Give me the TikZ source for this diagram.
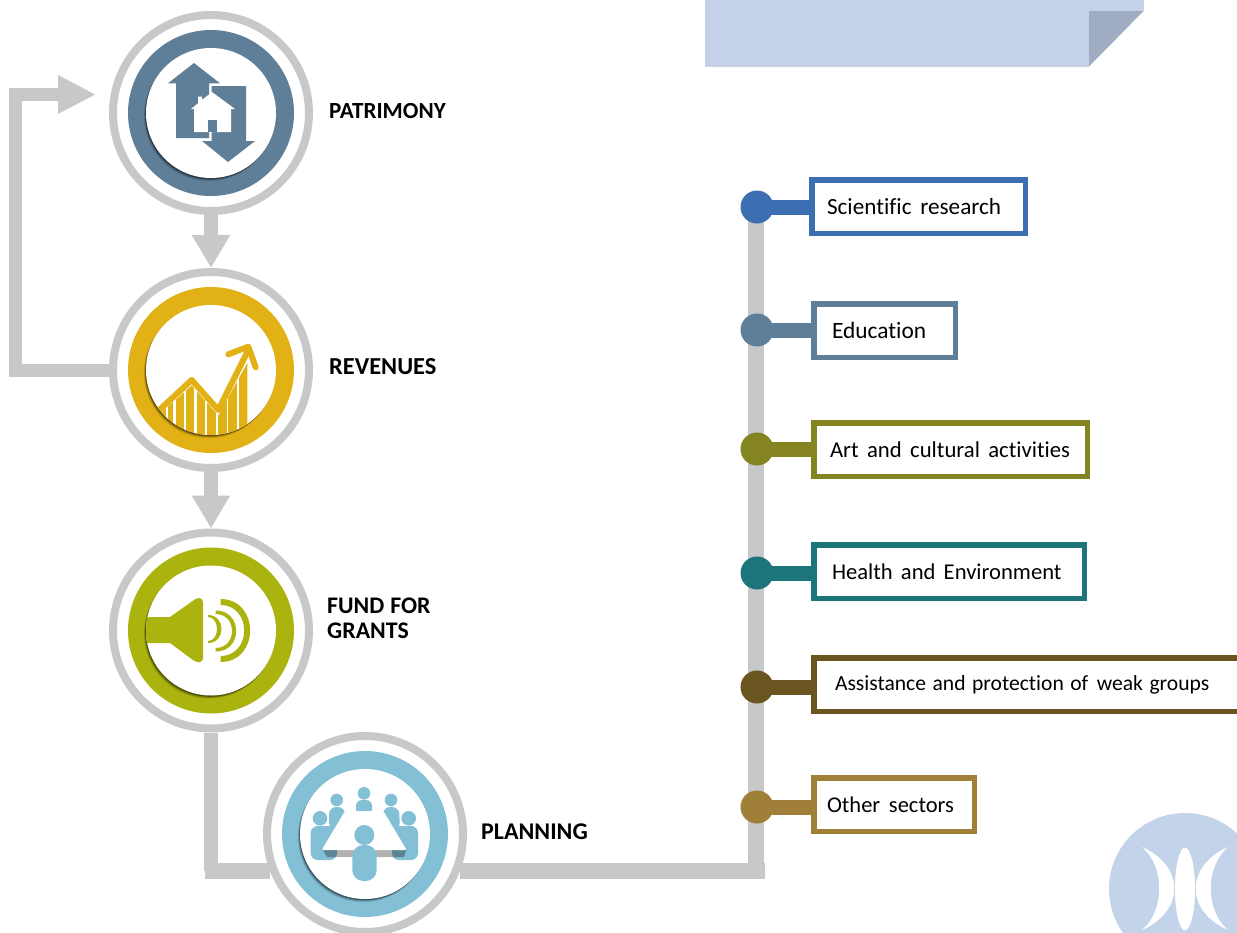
\documentclass[tikz,border=0pt]{standalone}
\usepackage{fontspec}
\setmainfont{Carlito}[Ligatures=NoCommon]
\usetikzlibrary{arrows.meta,backgrounds}
\definecolor{ringgray}{HTML}{C6C8CA}
\definecolor{cslate}{HTML}{5F7F99}
\definecolor{cgold}{HTML}{E2B115}
\definecolor{colive}{HTML}{ABB30F}
\definecolor{csky}{HTML}{83BFD5}
\definecolor{cblue}{HTML}{3B6FB2}
\definecolor{cmoss}{HTML}{848420}
\definecolor{cteal}{HTML}{1D757C}
\definecolor{cbrown}{HTML}{6A5520}
\definecolor{ctan}{HTML}{A07F38}
\definecolor{cbanner}{HTML}{C5D1E9}
\definecolor{cfold}{HTML}{A0ACC2}
\definecolor{clogo}{HTML}{C3D3EA}
\newcommand{\fsz}[2]{\fontsize{#1}{25}\selectfont\spaceskip=#2pt\relax}
\tikzset{
  ringnode/.style={circle,draw=ringgray,fill=white,line width=8pt,minimum size=196pt,inner sep=0pt},
  discnode/.style={circle,minimum size=166pt,inner sep=0pt,fill=#1},
  facenode/.style={circle,minimum size=130pt,inner sep=0pt,fill=white},
  shadedisc/.style={circle,minimum size=130pt,inner sep=0pt,fill=black},
  pipe/.style={draw=ringgray,line width=#1,line join=miter},
  pipe/.default=16pt,
  heading/.style={font=\bfseries\fsz{#1}{6},anchor=west,align=left,inner sep=0pt,text=black},
  dotnode/.style={circle,fill=#1,minimum size=33pt,inner sep=0pt},
  stub/.style={draw=#1,line width=15pt},
  sectorbox/.style={draw=#1,fill=white,line width=5.5pt,outer sep=2.75pt,anchor=north west,
    minimum height=53.5pt,align=left,inner ysep=0pt,text=black}
}
\newcommand{\mystation}[4]{%
  \node[ringnode] (#1) at (#2,#3) {};
  \node[discnode=#4] (#1-d) at (#2,#3) {};
  \node[shadedisc,opacity=.10] at (#2-2.2,#3+3.2) {};
  \node[shadedisc,opacity=.18] at (#2-1.5,#3+2.3) {};
  \node[shadedisc,opacity=.38] at (#2-.8,#3+1.3) {};
  \node[facenode] (#1-i) at (#2,#3) {};
}
\begin{document}
\begin{tikzpicture}[x=1pt,y=-1pt]
\path[use as bounding box,clip] (0,0) rectangle (1237,932);
\begin{scope}[on background layer]
\fill[white] (0,0) rectangle (1237,932);
\end{scope}

% banner
\fill[cbanner] (705,0) rectangle (1089,66.5);
\fill[cbanner] (1089,0) rectangle (1143.5,11);
\fill[cfold] (1089,11) -- (1143.5,11) -- (1089,66.5) -- cycle;

% logo
\fill[clogo] (1185,889) circle[radius=76];
\fill[white] (1142,847) .. controls (1185,866) and (1185,911) .. (1142,930)
  .. controls (1165,911) and (1165,866) .. cycle;
\fill[white] (1228,847) .. controls (1185,866) and (1185,911) .. (1228,930)
  .. controls (1205,911) and (1205,866) .. cycle;
\filldraw[fill=white,draw=clogo,line width=.7pt] (1185,889) ellipse[x radius=10.5,y radius=42];

% stations
\mystation{pat}{211}{113}{cslate}
\mystation{rev}{211}{370}{cgold}
\mystation{fund}{211}{630.5}{colive}
\mystation{plan}{365}{834}{csky}

% house icon
\fill[cslate] (194,63) -- (220,83.3) -- (209,83.3) -- (209,138) -- (176,138) -- (176,83.3) -- (168,83.3) -- cycle;
\fill[cslate] (211.7,86) -- (246,86) -- (246,141) -- (255,141) -- (228,162) -- (202,141) -- (211.7,141) -- cycle;
\fill[white] (212,92) -- (235,109) -- (231,109) -- (231,132) -- (194,132) -- (194,109) -- (191,109) -- (198,103.3)
  -- (198,96.5) -- (202,96.5) -- (202,100) -- cycle;
\fill[cslate] (208.3,120) rectangle (216.7,132);

% chart icon
\begin{scope}
\clip (211,370) circle[radius=65];
\fill[cgold] (160,413.5) -- (191.7,385.5) -- (218.3,415.5) -- (247.3,363) -- (247.3,440) -- (160,440) -- cycle;
\foreach \sx/\sw in {167/2.6,174.3/2.6,184.7/2.4,195.3/2.4,206.2/2.2,217/2.6,227.5/1.7,238/2.4}
  \fill[white] (\sx-\sw/2,360) rectangle (\sx+\sw/2,440);
\draw[cgold,line width=6pt,line join=round,line cap=round] (155,414) -- (191.7,380) -- (218.3,410) -- (248.3,350);
\end{scope}
\draw[cgold,line width=6pt,line join=round,line cap=round] (228.3,354.3) -- (248.3,346.7) -- (255.7,367.3);

% speaker icon
\begin{scope}
\clip (211,631) circle[radius=65];
\fill[colive] (140,617) -- (170,617) -- (194,600) .. controls (198,597) and (203,597) .. (203,603)
  -- (203,657) .. controls (203,664) and (197,663) .. (193,660) -- (170,643) -- (140,643) -- cycle;
\end{scope}
\fill[colive] (208,615) .. controls (226,615) and (226,643) .. (208,643) -- (208,641) .. controls (220,641) and (220,617) .. (208,617) -- cycle;
\fill[colive] (215.7,610.5) .. controls (243,610.5) and (243,651.5) .. (215.7,651.5) -- (215.7,648) .. controls (237.5,648) and (237.5,614) .. (215.7,614) -- cycle;
\fill[colive] (220.5,599) .. controls (260,599) and (260,662) .. (220.5,662) -- (220.5,656) .. controls (252,656) and (252,605) .. (220.5,605) -- cycle;

% meeting icon
\fill[csky] (364,793.3) circle[radius=6.3];
\fill[csky,rounded corners=6pt] (356,800) rectangle (372,820);
\fill[csky] (336.7,800) circle[radius=6.3];
\fill[csky,rounded corners=7pt] (329,807) -- (345,807) -- (345,829) -- (335,835) -- (329,829) -- cycle;
\fill[csky] (391,800) circle[radius=6.3];
\fill[csky,rounded corners=7pt] (383,807) -- (399,807) -- (400,829) -- (394,835) -- (383,829) -- cycle;
\fill[csky] (320,818.3) circle[radius=7.3];
\fill[csky,rounded corners=7pt] (310.7,826) rectangle (337,860);
\fill[csky] (408.7,818.3) circle[radius=7.3];
\fill[csky,rounded corners=7pt] (392,826) rectangle (418,860);
\fill[black,opacity=.3] (323,850) -- (406,850) -- (404,857) -- (327,857) -- cycle;
\fill[white,rounded corners=1.5pt] (345,811) -- (383.3,811) -- (406.7,850) -- (321.7,850) -- cycle;
\fill[csky] (364.3,835) circle[radius=10];
\fill[csky,rounded corners=11pt] (352.3,845) rectangle (376.7,881);

% headings
\node[heading=23.1] (hpat) at (329,111) {PATRIMONY};
\node[heading=24.4] (hrev) at (329,366.5) {REVENUES};
\node[heading=23.8] (hfund) at (327,618) {FUND FOR\\GRANTS};
\node[heading=24] (hplan) at (481,831.5) {PLANNING};

% sector dots
\node[dotnode=cblue] (d1) at (757,207) {};
\node[dotnode=cslate] (d2) at (757,330) {};
\node[dotnode=cmoss] (d3) at (757,449) {};
\node[dotnode=cteal] (d4) at (757,573) {};
\node[dotnode=cbrown] (d5) at (757,687) {};
\node[dotnode=ctan] (d6) at (757,807) {};

% sector boxes
\node[sectorbox=cblue,inner xsep=15.25pt,text width=183pt] (b1) at (809,177) {\fsz{23.2}{8.7}Scientific research};
\node[sectorbox=cslate,inner xsep=18.25pt,text width=105pt] (b2) at (811,301) {\fsz{23.4}{8}Education};
\node[sectorbox=cmoss,inner xsep=16.25pt,text width=241pt] (b3) at (811,420) {\fsz{22.7}{8.4}Art and cultural activities};
\node[sectorbox=cteal,inner xsep=18.25pt,text width=234pt] (b4) at (811,542) {\fsz{22.6}{8.2}Health and Environment};
\node[sectorbox=cbrown,inner xsep=21.25pt,text width=386pt] (b5) at (811,655) {\fsz{21.6}{6.5}Assistance and protection of\hspace{2pt} weak groups};
\node[sectorbox=ctan,inner xsep=13.25pt,text width=134pt] (b6) at (811,775) {\fsz{22.5}{8.7}Other sectors};

% stubs
\draw[stub=cblue] (d1.center) -- (d1.center -| b1.west);
\draw[stub=cslate] (d2.center) -- (d2.center -| b2.west);
\draw[stub=cmoss] (d3.center) -- (d3.center -| b3.west);
\draw[stub=cteal] (d4.center) -- (d4.center -| b4.west);
\draw[stub=cbrown] (d5.center) -- (d5.center -| b5.west);
\draw[stub=ctan] (d6.center) -- (d6.center -| b6.west);

% connectors
\coordinate (looptop) at (15.5,94.5);
\coordinate (looptip) at (96,94.5);
\coordinate (fundcorner) at (211,871);
\coordinate (busleft) at (204.5,871);
\coordinate (busend) at (765,871);
\coordinate (trunkfoot) at (756,871);
\coordinate (trunktop) at (756,207);
\draw[pipe=14pt,-{Triangle[length=33pt,width=36pt]}] (pat.south) -- (rev.north);
\draw[pipe=14pt,-{Triangle[length=33pt,width=36pt]}] (rev.south) -- (fund.north);
\draw[pipe=13pt,-{Triangle[length=38pt,width=36pt]}] (rev.west) -| (looptop) -- (looptip);
\draw[pipe=14pt] (fund.south) -- (fundcorner);
\draw[pipe=16pt] (busleft) -- (busleft -| plan.201.3);
\draw[pipe=16pt] (busend -| plan.338.7) -- (busend);
\begin{scope}[on background layer]
\draw[pipe=16pt] (trunkfoot) -- (trunktop);
\end{scope}
\end{tikzpicture}
\end{document}
